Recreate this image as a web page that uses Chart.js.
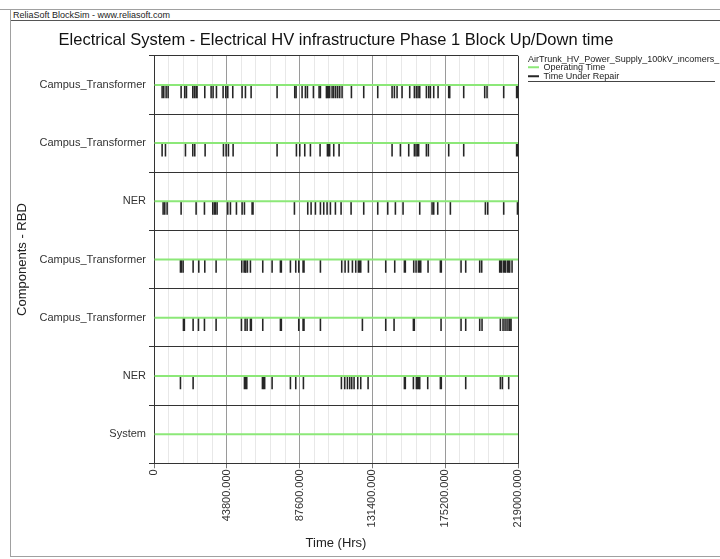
<!DOCTYPE html>
<html>
<head>
<meta charset="utf-8">
<script src="https://cdn.jsdelivr.net/npm/chart.js@4.4.1/dist/chart.umd.min.js"></script>
<style>
    html, body { margin: 0; padding: 0; background: #fff; }
    body { width: 720px; height: 559px; position: relative; overflow: hidden; font-family: "Liberation Sans", Arial, sans-serif; }
    #topline { position: absolute; left: 0; top: 9px; width: 720px; border-top: 1px solid #a0a0a0; }
    #frame { position: absolute; left: 10px; top: 9px; width: 712px; height: 547px; border-left: 1px solid #a0a0a0; border-bottom: 1px solid #a0a0a0; }
    #header { position: absolute; left: 11px; top: 10px; width: 707px; height: 10px; border-bottom: 1px solid #555; font-size: 9px; line-height: 10px; color: #222; padding-left: 2px; white-space: nowrap; }
    #wrap { position: absolute; left: 11px; top: 21px; }
</style>
</head>
<body>
<div id="topline"></div>
<div id="frame"></div>
<div id="header">ReliaSoft BlockSim - www.reliasoft.com</div>
<div id="wrap"><canvas id="chart" width="709" height="530"></canvas></div>

<script>
const TIME_MAX = 219000;
const MINOR_STEP = 8760;   // 1 year
const MAJOR_STEP = 43800;  // 5 years

const rowNames = ["Campus_Transformer", "Campus_Transformer", "NER", "Campus_Transformer", "Campus_Transformer", "NER", "System"];

// repair intervals [start, end] in hours
const repairsCampus1 = [[4610,5160],[5610,6160],[7020,7570],[8220,8770],[16040,16590],[18250,18800],[19250,19800],[23060,23610],[24060,24610],[25060,26160],[30280,30830],[34090,34640],[35290,35840],[37290,37840],[41300,41850],[42910,43460],[44110,44660],[47120,47670],[52730,53280],[54740,55290],[58150,58700],[73780,74330],[84410,84960],[85210,85760],[88820,89370],[90830,91380],[92030,92580],[95640,96190],[99050,99600],[99850,100400],[103460,104010],[104060,104610],[104860,105960],[106870,107420],[107870,108420],[109070,109620],[110280,110830],[111480,112030],[112880,113430],[118500,119050],[125910,126460],[134340,134890],[142960,143510],[144360,144910],[145960,146510],[148970,149520],[153580,154130],[156390,156940],[157590,158140],[158600,159150],[159600,160150],[163610,164160],[165010,165560],[166010,166560],[168020,168570],[170630,171180],[177040,177590],[177640,178190],[186060,186610],[198700,199250],[200100,200650],[210120,210670],[217900,219000]];
const repairsCampus2 = [[4610,5160],[6620,7170],[18650,19200],[23060,23610],[24260,24810],[30480,31030],[41500,42050],[43110,43660],[44510,45060],[47320,47870],[73780,74330],[85410,85960],[87420,87970],[90430,90980],[93830,94380],[99650,100200],[104060,104610],[104860,105960],[107870,108420],[111080,111630],[142960,143510],[147970,148520],[152980,153530],[156390,156940],[157390,157940],[158400,159500],[163610,164160],[164810,165360],[177040,177590],[186060,186610],[217900,219000]];
const repairsNer1 = [[5210,5760],[6220,6770],[7620,8170],[16040,16590],[25060,25610],[30080,30630],[35090,35640],[36090,37190],[37690,38240],[44110,44660],[45710,46260],[49320,49870],[52730,53280],[54140,54690],[58750,59850],[84210,84760],[92230,92780],[94240,94790],[96840,97390],[99850,100400],[101850,102400],[103860,104410],[105860,106410],[108870,109420],[112280,112830],[118300,118850],[125910,126460],[134340,134890],[140350,140900],[144960,145510],[149570,150120],[159600,160150],[167020,167570],[168020,168570],[170430,170980],[178040,178590],[199100,199650],[200500,201050],[210120,210670],[218400,219000]];
const repairsCampus3 = [[15640,16740],[17240,17790],[23260,23810],[26670,27220],[30280,30830],[37090,37640],[52530,53080],[53940,55040],[54940,55490],[55940,56490],[57740,58290],[65160,65710],[70780,71330],[75790,76890],[81800,82350],[85010,85560],[86820,87370],[89420,90520],[99850,100400],[112680,113230],[114690,115240],[116690,117240],[119100,119650],[121100,121650],[122710,123810],[124110,124660],[128720,129270],[139150,139700],[144560,145110],[150380,151480],[155990,156540],[157390,157940],[158800,159900],[160200,160750],[164610,165160],[172030,173130],[184460,185010],[187270,187820],[195690,196240],[196890,197440],[207720,208820],[208920,209470],[210120,211220],[211330,211880],[212530,213630],[213730,214280],[215140,215690]];
const repairsCampus4 = [[17440,18540],[23260,23810],[26470,27020],[30080,30630],[37090,37640],[52330,52880],[54540,55090],[55740,56290],[57740,58840],[65160,65710],[75790,76890],[86820,87370],[89420,90520],[99850,100400],[125110,125660],[139150,139700],[144160,144710],[155790,156890],[172430,172980],[184460,185010],[187270,187820],[195690,196240],[197090,197640],[208120,208670],[209720,210270],[210930,211480],[212130,212680],[213330,214430],[214540,215090]];
const repairsNer2 = [[15640,16190],[23260,23810],[54140,55240],[55540,56090],[64960,65510],[65760,66860],[70780,71330],[81800,82350],[85010,85560],[89620,90170],[112480,113030],[114490,115040],[116090,116640],[117490,118040],[118700,119250],[120100,120650],[122310,122860],[124110,124660],[128520,129070],[150380,151480],[155790,156340],[157590,158140],[158400,159500],[159600,160150],[164410,164960],[172030,173130],[187270,187820],[208120,208670],[209320,209870],[213130,213680]];
const repairsSystem = [];

const repairRows = [repairsCampus1, repairsCampus2, repairsNer1, repairsCampus3, repairsCampus4, repairsNer2, repairsSystem];

const GREEN = "rgb(140,232,120)";

// names repeat, so the category axis gets unique keys and shows the names
const rowKeys = rowNames.map((n, i) => n + "#" + i);

const operatingData = rowKeys.map(k => ({ x: [0, TIME_MAX], y: k }));

const repairData = [];
repairRows.forEach((row, r) => {
    row.forEach(([s, e]) => repairData.push({ x: [s, e], y: rowKeys[r] }));
});

function gridColor(v) {
    if (v === 0 || v === TIME_MAX) return "#333";
    if (v % MAJOR_STEP === 0) return "#9a9a9a";
    return "#e8e8e8";
}

const layoutTweak = {
    id: "layoutTweak",
    beforeLayout(chart) {
        const lg = chart.legend;
        if (lg && !lg._wide) {
            const fit = lg.fit;
            lg.fit = function () {
                fit.call(this);
                this.width = 202;
            };
            lg._wide = true;
        }
    },
    afterLayout(chart) {
        // legend sits a bit off the plot
        chart.legend.left += 10;
        chart.legend.right += 10;
        // title stays centred on the plot but gets room so it is not squeezed
        const t = chart.titleBlock;
        const ca = chart.chartArea;
        const mid = (ca.left + ca.right) / 2;
        t.left = mid - 340;
        t.right = mid + 340;
        t.width = 680;
    },
    afterDraw(chart) {
        const lg = chart.legend;
        const hb = lg.legendHitBoxes;
        if (!hb || !hb.length) return;
        const last = hb[hb.length - 1];
        const y = Math.round(last.top + last.height) + 0.5;
        const ctx = chart.ctx;
        ctx.save();
        ctx.strokeStyle = "#444";
        ctx.lineWidth = 1;
        ctx.beginPath();
        ctx.moveTo(lg.left, y);
        ctx.lineTo(chart.width - 5, y);
        ctx.stroke();
        ctx.restore();
    }
};

Chart.defaults.font.family = "'Liberation Sans', Arial, sans-serif";

new Chart(document.getElementById("chart"), {
    type: "bar",
    data: {
        labels: rowKeys,
        datasets: [
            {
                label: "Operating Time",
                data: operatingData,
                backgroundColor: GREEN,
                borderWidth: 0,
                grouped: false,
                maxBarThickness: 2
            },
            {
                label: "",
                data: [],
                stack: "pad",
                barThickness: 13,
                backgroundColor: "rgba(0,0,0,0)"
            },
            {
                label: "Time Under Repair",
                data: repairData,
                stack: "rep",
                barThickness: 13,
                backgroundColor: "#262626",
                borderWidth: 0
            }
        ]
    },
    options: {
        indexAxis: "y",
        responsive: false,
        animation: false,
        devicePixelRatio: 1,
        layout: { padding: 0 },
        scales: {
            x: {
                type: "linear",
                min: 0,
                max: TIME_MAX,
                grid: {
                    color: c => gridColor(c.tick ? c.tick.value : 0),
                    tickColor: c => (c.tick && c.tick.value % MAJOR_STEP === 0) ? "#777" : "rgba(0,0,0,0)",
                    tickLength: 5
                },
                border: { color: "#333" },
                ticks: {
                    stepSize: MINOR_STEP,
                    maxTicksLimit: 40,
                    autoSkip: false,
                    minRotation: 90,
                    maxRotation: 90,
                    padding: 1,
                    color: "#333",
                    font: { size: 11 },
                    callback: v => v % MAJOR_STEP !== 0 ? "" : (v === 0 ? "0" : v.toFixed(3))
                },
                title: {
                    display: true,
                    text: "Time (Hrs)",
                    color: "#222",
                    font: { size: 13 },
                    padding: { top: 7, bottom: 0 }
                }
            },
            y: {
                grid: { color: "#333", tickLength: 5 },
                border: { color: "#333" },
                ticks: {
                    color: "#333",
                    font: { size: 11 },
                    padding: 3,
                    callback: (v, i) => rowNames[i]
                },
                title: {
                    display: true,
                    text: "Components - RBD",
                    color: "#222",
                    font: { size: 13 }
                },
                afterFit: s => { s.width = 143; }
            }
        },
        plugins: {
            title: {
                display: true,
                text: "Electrical System - Electrical HV infrastructure Phase 1 Block Up/Down time",
                fullSize: false,
                color: "#111",
                font: { size: 16.5, weight: "normal" },
                padding: { top: 10, bottom: 5 }
            },
            legend: {
                position: "right",
                align: "start",
                fullSize: false,
                title: {
                    display: true,
                    text: "AirTrunk_HV_Power_Supply_100kV_incomers_",
                    position: "start",
                    color: "#222",
                    font: { size: 9, lineHeight: 1 },
                    padding: { top: -1, bottom: -1 }
                },
                labels: {
                    boxWidth: 11,
                    boxHeight: 2,
                    padding: 0,
                    color: "#222",
                    font: { size: 9 },
                    filter: item => item.text !== ""
                }
            },
            tooltip: { enabled: false }
        }
    },
    plugins: [layoutTweak]
});
</script>
</body>
</html>
